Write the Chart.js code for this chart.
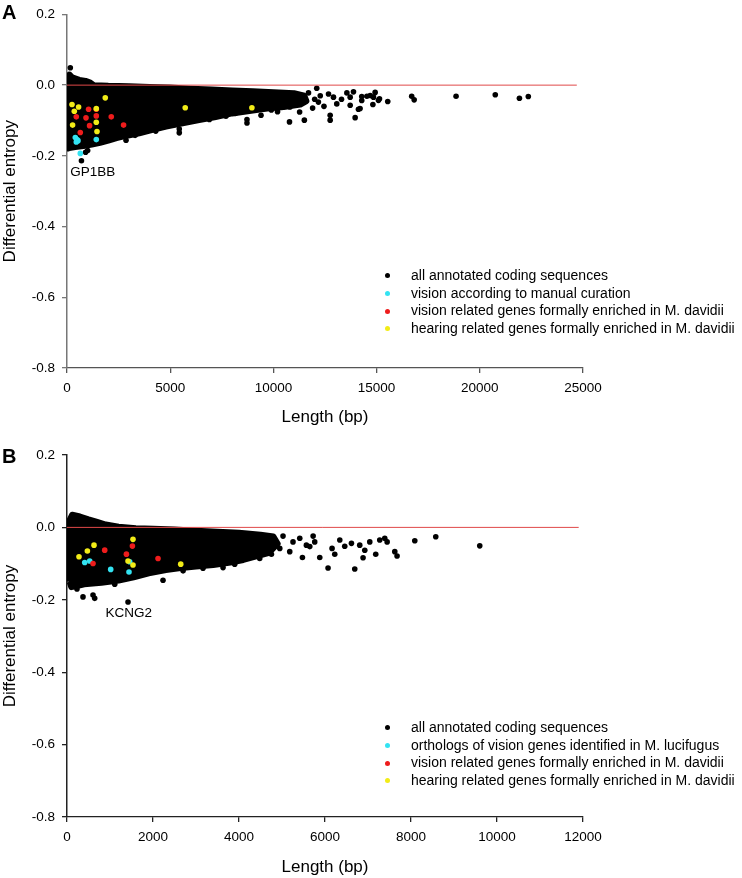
<!DOCTYPE html>
<html>
<head>
<meta charset="utf-8">
<script src="https://cdn.jsdelivr.net/npm/chart.js@4.4.1/dist/chart.umd.min.js"></script>
<style>
  html, body { margin: 0; padding: 0; background: #fff; }
  body { width: 742px; height: 878px; position: relative; overflow: hidden; font-family: "Liberation Sans", Arial, sans-serif; color: #000; }
  canvas { position: absolute; left: 0; }
  #chartA { top: 0; }
  #chartB { top: 440px; }
  .letter { position: absolute; left: 2px; font-weight: bold; font-size: 20px; line-height: 20px; }
  .legend { position: absolute; left: 383px; font-size: 14px; line-height: 17.7px; }
  .legend div { position: relative; padding-left: 28px; white-space: nowrap; height: 17.7px; }
  .legend span { position: absolute; left: 1.5px; top: 6.4px; width: 5px; height: 5px; border-radius: 50%; }
</style>
</head>
<body>
<canvas id="chartA" width="742" height="440"></canvas>
<canvas id="chartB" width="742" height="438"></canvas>
<div class="letter" style="top:2px">A</div>
<div class="letter" style="top:446px">B</div>
<div class="legend" id="legendA" style="top:267px"></div>
<div class="legend" id="legendB" style="top:719px"></div>

<script>
// axis ticks
const yTickValues = [-0.8, -0.6, -0.4, -0.2, 0, 0.2];
const yTickLabels = ['-0.8', '-0.6', '-0.4', '-0.2', '0.0', '0.2'];
const xTicksA = [0, 5000, 10000, 15000, 20000, 25000];
const xTicksB = [0, 2000, 4000, 6000, 8000, 10000, 12000];

// legend
const seriesColors = ['#000000', '#33e3f2', '#ee1c1c', '#f2ec17'];
const legendA = [
    'all annotated coding sequences',
    'vision according to manual curation',
    'vision related genes formally enriched in M. davidii',
    'hearing related genes formally enriched in M. davidii'
];
const legendB = [
    'all annotated coding sequences',
    'orthologs of vision genes identified in M. lucifugus',
    'vision related genes formally enriched in M. davidii',
    'hearing related genes formally enriched in M. davidii'
];

// ---- panel A (length bp, differential entropy) ----
// outline of the dense cloud of coding sequences
const cloudA = [
    [40, -0.12], [40, 0.02], [120, 0.03], [250, 0.022], [600, 0.015], [900, 0.012], [1100, 0.008],
    [1300, 0.0], [2000, -0.002], [3000, -0.003], [4000, -0.005], [5000, -0.007], [6000, -0.01],
    [7000, -0.012], [8000, -0.015], [9000, -0.017], [10000, -0.02], [11000, -0.023], [11500, -0.03],
    [11600, -0.045], [11300, -0.055], [10500, -0.062], [9700, -0.066], [9000, -0.072], [8000, -0.08],
    [7200, -0.09], [6400, -0.099], [5600, -0.108], [4800, -0.117], [4100, -0.127], [3500, -0.136],
    [2900, -0.143], [2400, -0.15], [2000, -0.157], [1600, -0.163], [1200, -0.168], [800, -0.172],
    [400, -0.175], [100, -0.178], [40, -0.12]
];
const pointsA = [
    [160, 0.049], [40, -0.18], [1000, -0.185], [900, -0.19], [700, -0.214], [2860, -0.156],
    [5440, -0.135], [5440, -0.124], [8720, -0.107], [8720, -0.097], [8150, -0.08], [10780, -0.104],
    [11500, -0.099], [11270, -0.076], [12750, -0.085], [12750, -0.099], [13960, -0.092], [14120, -0.068],
    [11700, -0.022], [12100, -0.009], [12270, -0.03], [12670, -0.025], [12910, -0.034], [13560, -0.022],
    [13720, -0.034], [13880, -0.019], [14280, -0.032], [14850, -0.034], [15090, -0.043], [13720, -0.057],
    [13070, -0.053], [12180, -0.048], [14280, -0.0435], [14530, -0.0316], [14690, -0.0296], [14930, -0.0205],
    [14820, -0.0546], [15140, -0.0388], [15540, -0.0463], [16700, -0.0316], [16820, -0.0416],
    [18850, -0.0316], [20750, -0.027], [21920, -0.037], [22350, -0.032], [14200, -0.066],
    [12000, -0.04], [12450, -0.06], [13300, -0.04], [11900, -0.065], [10200, -0.075], [9400, -0.085],
    [3300, -0.142], [4300, -0.13], [6900, -0.097], [7700, -0.088], [9900, -0.07], [10800, -0.062]
];
const visionA = [[402, -0.148], [484, -0.154], [450, -0.161], [533, -0.157], [644, -0.193], [1419, -0.154]];
const visionEnrichedA = [
    [450, -0.0897], [644, -0.134], [920, -0.0925], [1046, -0.068], [1094, -0.1146],
    [1419, -0.068], [1419, -0.087], [2145, -0.0897], [2741, -0.113]
];
const hearingA = [
    [242, -0.0546], [353, -0.074], [562, -0.062], [271, -0.113], [1419, -0.0665],
    [1419, -0.105], [1453, -0.131], [1854, -0.036], [5728, -0.064], [8958, -0.064]
];
const zeroLineA = [[0, 0], [24700, 0]];
const notesA = [{ text: 'GP1BB', x: 1250, y: -0.246 }];

// ---- panel B ----
const cloudB = [
    [60, -0.15], [60, 0.02], [120, 0.035], [300, 0.03], [500, 0.022], [700, 0.015], [900, 0.008],
    [1200, 0.002], [1600, -0.002], [2000, -0.004], [2500, -0.006], [3000, -0.009], [3500, -0.012],
    [4000, -0.015], [4500, -0.02], [4800, -0.025], [4900, -0.045], [4700, -0.07], [4400, -0.08],
    [4100, -0.09], [3800, -0.097], [3400, -0.104], [3000, -0.108], [2600, -0.113], [2300, -0.118],
    [1900, -0.127], [1550, -0.138], [1200, -0.147], [800, -0.153], [400, -0.157], [200, -0.163],
    [100, -0.165], [60, -0.15]
];
const pointsB = [
    [372, -0.192], [605, -0.187], [644, -0.196], [1419, -0.206], [1110, -0.157], [2233, -0.146],
    [3163, -0.113], [3629, -0.111], [4792, -0.03], [5024, -0.024], [5256, -0.04], [5413, -0.03],
    [5567, -0.049], [5646, -0.053], [5724, -0.024], [5761, -0.04], [4948, -0.058], [5180, -0.067],
    [4754, -0.074], [4482, -0.086], [4327, -0.067], [5475, -0.083], [5878, -0.083], [6071, -0.112],
    [6164, -0.058], [6227, -0.074], [6344, -0.035], [6459, -0.052], [6615, -0.044], [6692, -0.115],
    [6808, -0.049], [6885, -0.084], [6925, -0.063], [7041, -0.04], [7180, -0.074], [7273, -0.035],
    [7390, -0.03], [7445, -0.04], [7623, -0.067], [7676, -0.079], [8088, -0.037], [8576, -0.026],
    [9599, -0.051], [232, -0.17], [2700, -0.12], [3900, -0.102]
];
const visionB = [[412, -0.097], [528, -0.093], [1016, -0.116], [1458, -0.095], [1442, -0.123]];
const visionEnrichedB = [[605, -0.0996], [877, -0.0628], [1382, -0.0739], [1521, -0.0517], [2117, -0.0858]];
const hearingB = [
    [279, -0.081], [474, -0.065], [628, -0.049], [1535, -0.033], [1419, -0.093], [1535, -0.104], [2645, -0.1015]
];
const zeroLineB = [[0, 0], [11900, 0]];
const notesB = [{ text: 'KCNG2', x: 1435, y: -0.238 }];

const FONT = '"Liberation Sans", Arial, sans-serif';

// text next to single points
const pointNotes = {
    id: 'pointNotes',
    afterDatasetsDraw(chart, args, opts) {
        const { ctx, scales } = chart;
        ctx.save();
        ctx.font = '13.5px ' + FONT;
        ctx.fillStyle = '#000';
        ctx.textAlign = 'center';
        ctx.textBaseline = 'middle';
        (opts.items || []).forEach((n) => {
            ctx.fillText(n.text, scales.x.getPixelForValue(n.x), scales.y.getPixelForValue(n.y));
        });
        ctx.restore();
    }
};

function dots(data, color) {
    return { data: data, backgroundColor: color, borderWidth: 0, pointRadius: 2.8 };
}

function buildChart(id, o) {
    return new Chart(document.getElementById(id), {
        type: 'scatter',
        data: {
            datasets: [
                dots(o.hearing, seriesColors[3]),
                dots(o.visionEnriched, seriesColors[2]),
                dots(o.vision, seriesColors[1]),
                { type: 'line', data: o.zero, borderColor: '#e04848', borderWidth: 1, pointRadius: 0, fill: false },
                dots(o.points, seriesColors[0]),
                {
                    type: 'line', data: o.cloud, borderColor: '#000', backgroundColor: '#000',
                    borderWidth: 6, borderJoinStyle: 'round', pointRadius: 0, tension: 0, fill: 'shape'
                }
            ]
        },
        options: {
            responsive: false,
            animation: false,
            events: [],
            layout: { padding: { top: o.padTop, right: 159, left: 0, bottom: 0 } },
            plugins: {
                legend: { display: false },
                tooltip: { enabled: false },
                pointNotes: { items: o.notes }
            },
            scales: {
                x: {
                    type: 'linear', position: 'bottom', min: 0, max: o.xTicks[o.xTicks.length - 1],
                    afterBuildTicks: (s) => { s.ticks = o.xTicks.map((v) => ({ value: v })); },
                    afterFit: (s) => { s.height = o.xHeight; },
                    grid: { drawOnChartArea: false, drawTicks: true, tickLength: 5, color: o.axisColor, lineWidth: 1.3 },
                    border: { color: o.axisColor, width: 1.3 },
                    ticks: {
                        color: '#000', padding: 8, maxRotation: 0, autoSkip: false,
                        font: { family: FONT, size: 13.5, lineHeight: 1.1 },
                        callback: (v) => String(v)
                    },
                    title: {
                        display: true, text: 'Length (bp)', color: '#000',
                        font: { family: FONT, size: 17 }, padding: { top: 0, bottom: o.xTitlePad }
                    }
                },
                y: {
                    type: 'linear', position: 'left', min: -0.8, max: 0.2,
                    afterBuildTicks: (s) => { s.ticks = yTickValues.map((v) => ({ value: v })); },
                    afterFit: (s) => { s.width = 67; },
                    grid: { drawOnChartArea: false, drawTicks: true, tickLength: 5, color: o.yAxisColor, lineWidth: 1.3 },
                    border: { color: o.yAxisColor, width: 1.5 },
                    ticks: {
                        color: '#000', padding: 7, autoSkip: false,
                        font: { family: FONT, size: 13.5, lineHeight: 1.1 },
                        callback: (v) => yTickLabels[yTickValues.findIndex((t) => Math.abs(t - v) < 1e-9)]
                    },
                    title: {
                        display: true, text: 'Differential entropy', color: '#000',
                        font: { family: FONT, size: 17 }, padding: { top: 0, bottom: 0 }
                    }
                }
            }
        },
        plugins: [pointNotes]
    });
}

function fillLegend(id, labels) {
    const box = document.getElementById(id);
    labels.forEach((text, i) => {
        const row = document.createElement('div');
        const dot = document.createElement('span');
        dot.style.background = seriesColors[i];
        row.appendChild(dot);
        row.appendChild(document.createTextNode(text));
        box.appendChild(row);
    });
}

buildChart('chartA', {
    cloud: cloudA, points: pointsA, vision: visionA, visionEnriched: visionEnrichedA, hearing: hearingA,
    zero: zeroLineA, notes: notesA, xTicks: xTicksA,
    padTop: 7.3, xHeight: 72, xTitlePad: 12, axisColor: '#555', yAxisColor: '#777'
});
buildChart('chartB', {
    cloud: cloudB, points: pointsB, vision: visionB, visionEnriched: visionEnrichedB, hearing: hearingB,
    zero: zeroLineB, notes: notesB, xTicks: xTicksB,
    padTop: 15, xHeight: 61, xTitlePad: 0, axisColor: '#222', yAxisColor: '#222'
});
fillLegend('legendA', legendA);
fillLegend('legendB', legendB);
</script>
</body>
</html>
